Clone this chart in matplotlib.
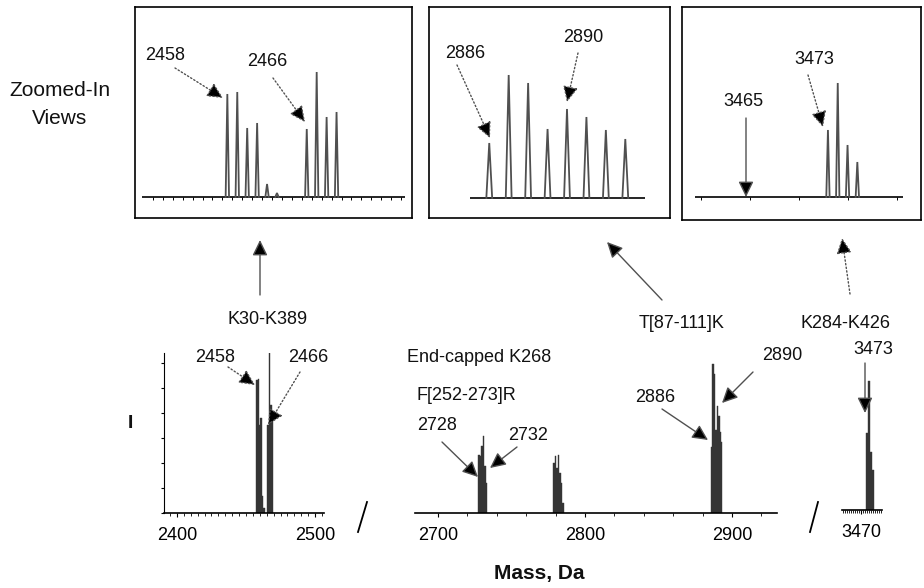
import numpy as np
import matplotlib
matplotlib.use("Agg")
from matplotlib import pyplot as plt

plt.rcParams["font.family"] = ["Liberation Sans", "DejaVu Sans"]

# ------------------------------------------------------------------------------
#  Data (intensities in arbitrary units)
# ------------------------------------------------------------------------------
# zoomed-in views (top row)
zoom1_mass = [2458, 2459, 2460, 2461, 2462, 2463, 2466, 2467, 2468, 2469]
zoom1_int = [103, 105, 69, 74, 13, 4, 68, 125, 80, 85]
zoom2_mass = [2886, 2887, 2888, 2889, 2890, 2891, 2892, 2893]
zoom2_int = [55, 123, 115, 69, 89, 81, 68, 59]
zoom3_mass = [3473, 3474, 3475, 3476]
zoom3_int = [67, 114, 52, 35]

# overview spectrum (bottom row)
ovA_mass = [2458, 2459, 2460, 2461, 2462, 2463, 2466, 2467, 2468, 2469]
ovA_int = [133, 134, 88, 95, 17, 5, 88, 160, 108, 100]
ovB_mass = [2728, 2729, 2730, 2731, 2732, 2733,
            2779, 2780, 2781, 2782, 2783, 2784, 2785,
            2886, 2887, 2888, 2889, 2890, 2891, 2892, 2893]
ovB_int = [58, 57, 67, 77, 47, 30,
           50, 57, 45, 58, 40, 30, 10,
           66, 149, 139, 83, 107, 97, 81, 71]
ovC_mass = [3473, 3474, 3475, 3476]
ovC_int = [77, 129, 58, 40]

W, H = 924, 588
GRAY = "#505050"
DARK = "#353535"


def px_rect(l, t, r, b):
    return [l / W, 1 - b / H, (r - l) / W, (b - t) / H]


def peaks(ax, mass, inten, hw):
    for m, h in zip(mass, inten):
        ax.plot([m - hw, m, m + hw], [0, h, 0], color=GRAY, lw=1.3,
                solid_joinstyle="miter")


fig = plt.figure(figsize=(W / 100, H / 100), dpi=100)

# ------------------------------------------------------------------------------
#  Zoomed-in boxes
# ------------------------------------------------------------------------------
ax1 = fig.add_axes(px_rect(135, 7, 412, 218))
ax1.set_xlim(2448.7, 2476.6)
ax1.set_ylim(-21, 190)
ax1.hlines(0, 2449.4, 2475.9, color="k", lw=1.2)
ax1.vlines(np.arange(2450.5, 2476, 1.0), -2.5, 0, color="k", lw=0.7)
peaks(ax1, zoom1_mass, zoom1_int, 0.17)

ax2 = fig.add_axes(px_rect(429, 7, 670, 218))
ax2.set_xlim(2882.9, 2895.3)
ax2.set_ylim(-20, 191)
ax2.hlines(0, 2885.0, 2894.0, color="k", lw=1.2)
peaks(ax2, zoom2_mass, zoom2_int, 0.15)

ax3 = fig.add_axes(px_rect(682, 7, 921, 220))
ax3.set_xlim(3458.1, 3482.5)
ax3.set_ylim(-23, 190)
ax3.hlines(0, 3459.4, 3480.7, color="k", lw=1.2)
ax3.vlines(np.arange(3460, 3481, 5), -3, 0, color="k", lw=0.7)
peaks(ax3, zoom3_mass, zoom3_int, 0.17)

for ax in (ax1, ax2, ax3):
    ax.set_xticks([])
    ax.set_yticks([])
    ax.patch.set_alpha(0)
    for s in ax.spines.values():
        s.set_linewidth(1.2)

# ------------------------------------------------------------------------------
#  Overview spectrum with axis breaks
# ------------------------------------------------------------------------------
axA = fig.add_axes(px_rect(164, 353, 324, 513))
axA.bar(ovA_mass, ovA_int, width=1.0, color=DARK, ec=DARK, lw=0.3)
axA.set_xlim(2390.6, 2506.5)
axA.set_ylim(0, 160)
axA.set_xticks([2400, 2500])
axA.set_xticks(np.arange(2395, 2506, 5), minor=True)
axA.set_yticks(np.arange(0, 160, 25))
axA.tick_params(axis="y", direction="out", length=2.5, labelleft=False)
axA.spines[["top", "right"]].set_visible(False)

axB = fig.add_axes(px_rect(415, 353, 777, 513))
axB.bar(ovB_mass, ovB_int, width=1.0, color=DARK, ec=DARK, lw=0.3)
axB.set_xlim(2684.4, 2930.6)
axB.set_ylim(0, 160)
axB.set_xticks([2700, 2800, 2900])
axB.set_xticks(np.arange(2700, 2930, 20), minor=True)
axB.set_yticks([])
axB.spines[["top", "right", "left"]].set_visible(False)

axC = fig.add_axes(px_rect(842, 353, 882, 510))
axC.bar(ovC_mass, ovC_int, width=0.8, color=DARK, ec=DARK, lw=0.3)
axC.set_xlim(3460.5, 3480.5)
axC.set_ylim(0, 157)
axC.set_xticks([3470])
axC.set_xticks(np.arange(3461, 3481, 1), minor=True)
axC.set_yticks([])
axC.spines[["top", "right", "left"]].set_visible(False)

for ax in (axA, axB, axC):
    ax.patch.set_alpha(0)
    ax.spines["bottom"].set_linewidth(1.2)
    ax.tick_params(axis="x", which="major", direction="out", length=3,
                   pad=7, labelsize=13)
    ax.tick_params(axis="x", which="minor", direction="out", length=2)

# ------------------------------------------------------------------------------
#  Labels and arrows (overlay in pixel coordinates)
# ------------------------------------------------------------------------------
ov = fig.add_axes([0, 0, 1, 1])
ov.set_xlim(0, W)
ov.set_ylim(H, 0)
ov.axis("off")
ov.patch.set_alpha(0)


def arrow(x0, y0, x1, y1, ls="-", color=GRAY):
    ov.annotate("", xy=(x1, y1), xytext=(x0, y0),
                arrowprops=dict(arrowstyle="-|>,head_length=0.45,head_width=0.22",
                                mutation_scale=21, lw=1.0, ls=ls,
                                color=color, fc="k", ec=color,
                                shrinkA=0, shrinkB=0))


def label(x, y, s, size=13, **kw):
    ov.text(x, y, s, size=size, ha="center", va="center", color="#111", **kw)


# top boxes
label(165, 55, "2458")
arrow(175, 68, 223, 98, ls=":")
label(267, 62, "2466")
arrow(273, 78, 305, 122, ls=":")
label(465, 53, "2886")
arrow(457, 65, 490, 138, ls=":")
label(583, 37, "2890")
arrow(578, 53, 567, 102, ls=":")
label(743, 102, "3465")
arrow(746, 118, 746, 197)
label(814, 60, "3473")
arrow(808, 75, 823, 127, ls=":")

# middle connectors
label(268, 319, "K30-K389")
arrow(260, 295, 260, 240)
label(682, 324, "T[87-111]K")
arrow(662, 300, 607, 242)
label(846, 324, "K284-K426")
arrow(850, 294, 842, 238, ls=":")

# overview annotations
label(215, 357, "2458")
arrow(228, 367, 255, 385, ls=":")
label(308, 357, "2466")
arrow(300, 372, 268, 425, ls=":")
ov.text(407, 357, "End-capped K268", size=13, ha="left", va="center", color="#111")
ov.text(416, 395, "F[252-273]R", size=13, ha="left", va="center", color="#111")
label(437, 425, "2728")
arrow(442, 442, 478, 477)
label(528, 435, "2732")
arrow(517, 447, 490, 468)
label(655, 398, "2886")
arrow(662, 409, 708, 440)
label(782, 356, "2890")
arrow(753, 372, 722, 403)
label(873, 350, "3473")
arrow(865, 363, 865, 413)

# axis breaks
ov.plot([358, 367], [532, 502], color="k", lw=1.3)
ov.plot([810, 818], [532, 502], color="k", lw=1.3)

# titles
label(60, 90, "Zoomed-In", size=15)
label(60, 118, "Views", size=15)
label(130, 423, "I", size=14, weight="bold")
label(539, 573, "Mass, Da", size=15, weight="bold")

fig.savefig("out.png", dpi=100)
